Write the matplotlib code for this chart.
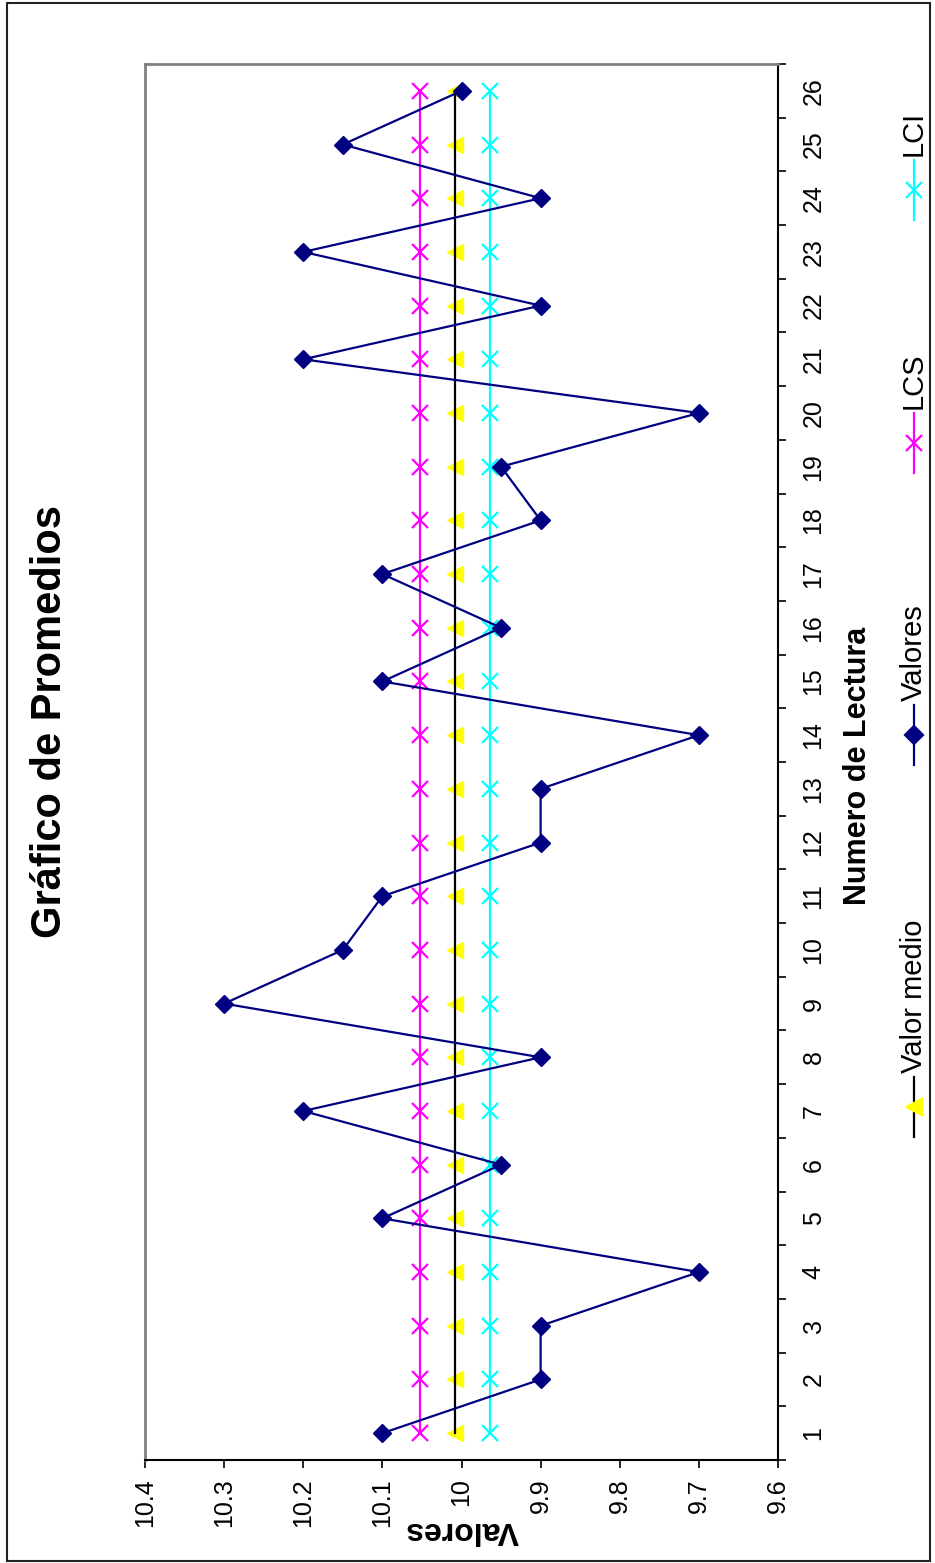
import matplotlib
matplotlib.use("Agg")
import matplotlib.pyplot as plt
from matplotlib.lines import Line2D
from matplotlib.patches import Rectangle

# lecturas y valores promedio
lecturas = list(range(1, 27))
valores = [10.1, 9.9, 9.9, 9.7, 10.1, 9.95, 10.2, 9.9, 10.3, 10.15, 10.1, 9.9, 9.9,
           9.7, 10.1, 9.95, 10.1, 9.9, 9.95, 9.7, 10.2, 9.9, 10.2, 9.9, 10.15, 10.0]
valor_medio = [10.008] * 26
lcs = [10.053] * 26
lci = [9.964] * 26
ticks_valores = [10.4, 10.3, 10.2, 10.1, 10.0, 9.9, 9.8, 9.7, 9.6]
labels_valores = ["10.4", "10.3", "10.2", "10.1", "10", "9.9", "9.8", "9.7", "9.6"]

plt.rcParams["font.family"] = ["Liberation Sans", "DejaVu Sans"]
W, H = 935, 1563
fig = plt.figure(figsize=(W / 100, H / 100), dpi=100)

# chart is laid out turned on its side: values run along x (reversed), readings along y
ax = fig.add_axes([145 / W, 1 - 1460 / H, (778 - 145) / W, (1460 - 64) / H])
ax.set_xlim(10.4, 9.6)
ax.set_ylim(0.5, 26.5)

MAG, CYA, NAVY, YEL = "#FF00FF", "#00FFFF", "#000080", "#FFFF00"
ax.plot(lcs, lecturas, color=MAG, lw=1.6, zorder=3)
ax.plot(lcs, lecturas, "x", color=MAG, ms=12, mew=1.6, zorder=3)
ax.plot(lci, lecturas, color=CYA, lw=1.6, zorder=3)
ax.plot(lci, lecturas, "x", color=CYA, ms=12, mew=1.6, zorder=3)
ax.plot(valor_medio, lecturas, "<", color=YEL, mec=YEL, ms=11, zorder=2)
ax.plot(valor_medio, lecturas, color="black", lw=1.6, zorder=3)
ax.plot(valores, lecturas, color=NAVY, lw=1.6, marker="D", ms=9, mec=NAVY, zorder=4)

for s in ("left", "top"):
    ax.spines[s].set_color("#808080")
    ax.spines[s].set_linewidth(2)
for s in ("right", "bottom"):
    ax.spines[s].set_color("black")
    ax.spines[s].set_linewidth(1.5)

ax.set_xticks(ticks_valores)
ax.set_xticklabels(labels_valores, rotation=90)
ax.tick_params(axis="x", direction="out", length=6, width=1.2, labelsize=18, pad=7)

ax.yaxis.tick_right()
ax.set_yticks(lecturas)
ax.set_yticklabels([str(n) for n in lecturas], rotation=90, va="center")
ax.set_yticks([n + 0.5 for n in range(27)], minor=True)
ax.tick_params(axis="y", which="major", length=0, labelsize=18, pad=17)
ax.tick_params(axis="y", which="minor", left=False, right=True, direction="out",
               length=6, width=1.2)

# titles, border and legend in pixel space
ov = fig.add_axes([0, 0, 1, 1], zorder=5)
ov.set_xlim(0, W)
ov.set_ylim(H, 0)
ov.axis("off")
ov.add_patch(Rectangle((7, 3), W - 12, 1558, fill=False, ec="#222222", lw=1.5))

ov.text(50, 722, "Gráfico de Promedios", rotation=90, ha="center", va="center",
        fontsize=30, fontweight="bold")
ov.text(858, 766, "Numero de Lectura", rotation=90, ha="center", va="center",
        fontsize=22, fontweight="bold")
ov.text(462, 1530, "Valores", rotation=180, ha="center", va="center",
        fontsize=23, fontweight="bold")

entradas = [("LCI", CYA, CYA, "x", 190),
            ("LCS", MAG, MAG, "x", 443),
            ("Valores", NAVY, NAVY, "D", 735),
            ("Valor medio", "black", YEL, "<", 1107)]
for nombre, lc, mc, mk, yc in entradas:
    ov.add_line(Line2D([914, 914], [yc - 30, yc + 30], color=lc, lw=1.6))
    ov.plot([914], [yc], marker=mk, color=mc, mec=mc, mew=1.6,
            ms=9 if mk == "D" else (11 if mk == "<" else 12))
    ov.text(914, yc - 34, nombre, rotation=90, ha="center", va="bottom", fontsize=21)

fig.savefig("out.png", dpi=100)
